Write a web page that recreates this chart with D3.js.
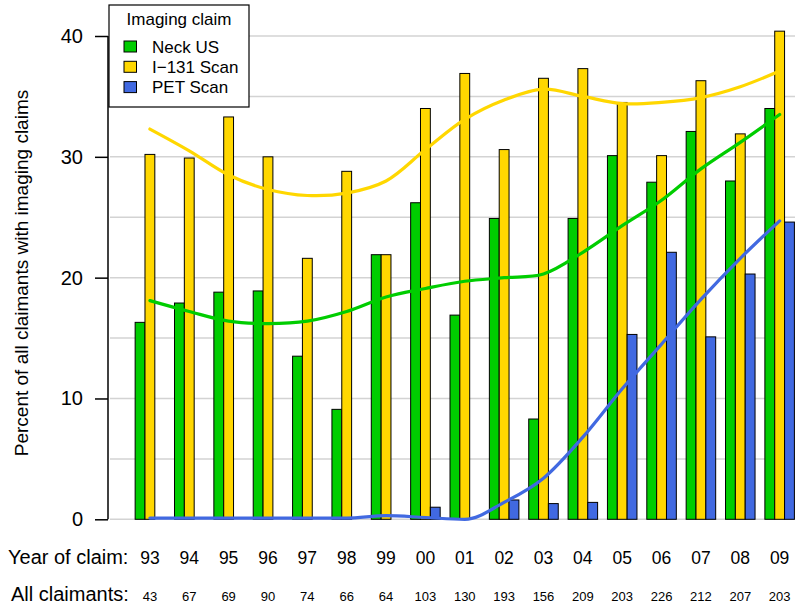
<!DOCTYPE html>
<html>
<head>
<meta charset="utf-8">
<script src="https://cdn.jsdelivr.net/npm/d3@7"></script>
<style>
  html, body { margin: 0; padding: 0; background: #fff; }
  svg { display: block; font-family: "Liberation Sans", Arial, Helvetica, sans-serif; }
</style>
</head>
<body>
<svg id="chart" width="800" height="614"></svg>
<script>
// ---- data ----
const years = ["93","94","95","96","97","98","99","00","01","02","03","04","05","06","07","08","09"];
const claimants = [43,67,69,90,74,66,64,103,130,193,156,209,203,226,212,207,203];
const seriesNames = ["Neck US", "I\u2212131 Scan", "PET Scan"];
const neckUS = [16.3,17.9,18.8,18.9,13.5,9.1,21.9,26.2,16.9,24.9,8.3,24.9,30.1,27.9,32.1,28.0,34.0];
const i131 =   [30.2,29.9,33.3,30.0,21.6,28.8,21.9,34.0,36.9,30.6,36.5,37.3,34.5,30.1,36.3,31.9,40.4];
const pet =    [0,0,0,0,0,0,0,1.0,0,1.6,1.3,1.4,15.3,22.1,15.1,20.3,24.6];
// smoothed trend curves read at each year
const neckSmooth = [18.1,17.2,16.4,16.2,16.4,17.2,18.4,19.1,19.7,20.0,20.3,22.1,24.3,26.4,29.0,31.2,33.5];
const i131Smooth = [32.3,30.5,28.5,27.3,26.8,27.0,28.0,30.6,33.1,34.7,35.6,35.0,34.4,34.5,34.9,35.8,37.1];
const petSmooth  = [0.1,0.1,0.1,0.1,0.1,0.1,0.3,0.15,0,1.4,3.4,6.8,10.8,14.5,18.2,21.6,24.7];
const yTicks = [0,10,20,30,40];
const gridVals = [0,5,10,15,20,25,30,35,40];
const colors = ["#00CD00", "#FFD700", "#4169E1"];

const svg = d3.select("#chart");

const x = d3.scaleBand().domain(years).range([125.3, 794.4])
  .paddingInner(0.25).paddingOuter(0.125).align(1);
const xs = d3.scaleBand().domain(d3.range(3)).range([0, x.bandwidth()]);
const y = d3.scaleLinear().domain([0, 40]).range([519.3, 36.0]);

// gridlines
svg.append("g").selectAll("line").data(gridVals).join("line")
  .attr("x1", 110).attr("x2", 795)
  .attr("y1", d => y(d)).attr("y2", d => y(d))
  .attr("stroke", "#D3D3D3").attr("stroke-width", 1.5);

// bars
const allSeries = [neckUS, i131, pet];
const groups = svg.append("g").selectAll("g").data(years).join("g")
  .attr("transform", d => `translate(${x(d)},0)`);
groups.selectAll("rect").data((d, i) => allSeries.map((s, k) => ({k, v: s[i]}))).join("rect")
  .attr("x", d => xs(d.k))
  .attr("width", xs.bandwidth())
  .attr("y", d => y(d.v))
  .attr("height", d => y(0) - y(d.v))
  .attr("fill", d => colors[d.k])
  .attr("stroke", "#000").attr("stroke-width", 1);

// smooth curves
const cx = d => x(d) + x.bandwidth() / 2;
const smooths = [neckSmooth, i131Smooth, petSmooth];
const curveTypes = [d3.curveCatmullRom.alpha(0.5), d3.curveCatmullRom.alpha(0.5), d3.curveMonotoneX];
[1, 0, 2].forEach(k => {
  const line = d3.line().x((d, i) => cx(years[i])).y(d => y(d)).curve(curveTypes[k]);
  svg.append("path").datum(smooths[k]).attr("d", line)
    .attr("fill", "none").attr("stroke", colors[k]).attr("stroke-width", 3.2)
    .attr("stroke-linecap", "round");
});

// y axis
const yAxis = d3.axisLeft(y).tickValues(yTicks).tickSize(13).tickPadding(12);
const ga = svg.append("g").attr("transform", "translate(108,0)").call(yAxis);
ga.select(".domain").attr("stroke", "#000").attr("stroke-width", 1.5).attr("d", `M0,${y(0)}V${y(40)}`);
ga.selectAll(".tick line").attr("stroke", "#000").attr("stroke-width", 1.5);
ga.selectAll(".tick text").attr("font-size", 20).attr("fill", "#000")
  .attr("font-family", "Liberation Sans, Arial, sans-serif");

// y title
svg.append("text")
  .attr("transform", `translate(28,273) rotate(-90)`)
  .attr("text-anchor", "middle").attr("font-size", 19).attr("fill", "#000")
  .text("Percent of all claimants with imaging claims");

// bottom labels
svg.append("text").attr("x", 8).attr("y", 564).attr("font-size", 20).text("Year of claim:");
svg.append("text").attr("x", 11).attr("y", 601).attr("font-size", 20).text("All claimants:");
svg.append("g").selectAll("text").data(years).join("text")
  .attr("x", d => cx(d)).attr("y", 564).attr("text-anchor", "middle")
  .attr("font-size", 17.5).text(d => d);
svg.append("g").selectAll("text").data(claimants).join("text")
  .attr("x", (d, i) => cx(years[i])).attr("y", 601).attr("text-anchor", "middle")
  .attr("font-size", 13).text(d => d);

// legend
const lg = svg.append("g");
lg.append("rect").attr("x", 109).attr("y", 5).attr("width", 140).attr("height", 102)
  .attr("fill", "#fff").attr("stroke", "#000").attr("stroke-width", 1.2);
lg.append("text").attr("x", 179).attr("y", 25).attr("text-anchor", "middle")
  .attr("font-size", 17).text("Imaging claim");
seriesNames.forEach((n, k) => {
  const cy = 46.5 + k * 20.3;
  lg.append("rect").attr("x", 124).attr("y", cy - 5.5).attr("width", 12.5).attr("height", 11)
    .attr("fill", colors[k]).attr("stroke", "#000").attr("stroke-width", 1);
  lg.append("text").attr("x", 152).attr("y", cy + 6).attr("font-size", 17).text(n);
});
</script>
</body>
</html>
